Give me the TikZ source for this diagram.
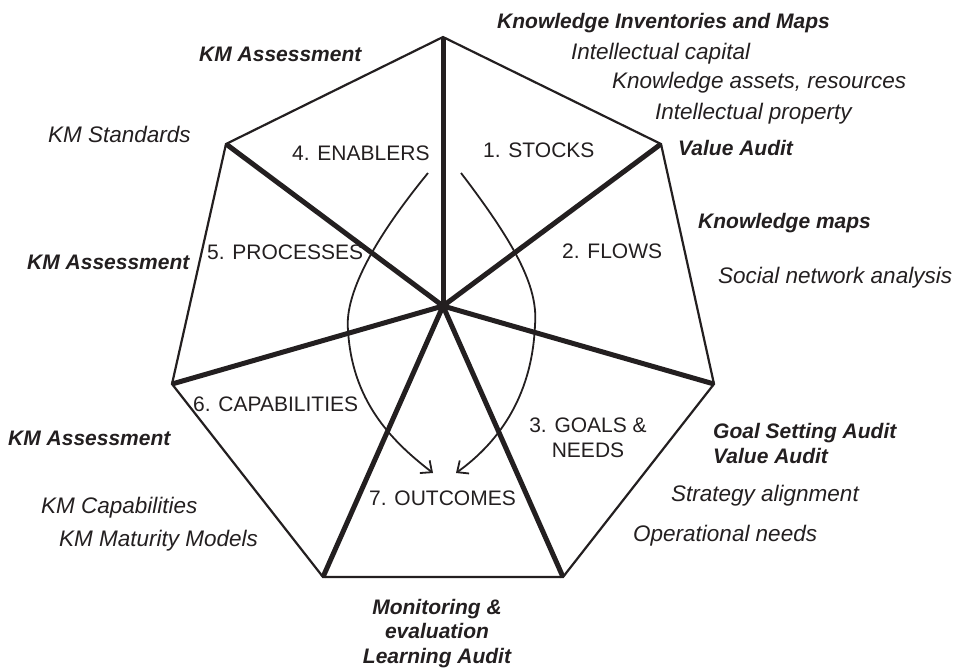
\documentclass[tikz,border=0pt]{standalone}
\usepackage{fontspec}
\setmainfont{Liberation Sans}
\usetikzlibrary{arrows.meta}
\definecolor{ink}{HTML}{231F20}
\begin{document}
\begin{tikzpicture}[x=1pt,y=-1pt,
  spoke/.style={line width=5pt, draw=ink},
  rim/.style={line width=2.2pt, draw=ink, line join=miter},
  flow/.style={line width=1.8pt, draw=ink,
    -{Straight Barb[length=9pt,width=16pt,line width=1.8pt]}},
  dim/.style={font=\fontsize{21}{25}\selectfont, text=ink, inner sep=0pt, anchor=base west},
  dimc/.style={dim, anchor=base},
  tool/.style={font=\fontsize{21}{25}\selectfont\bfseries\itshape, text=ink, inner sep=0pt, anchor=base west},
  toolc/.style={tool, anchor=base},
  item/.style={font=\fontsize{22.5}{27}\selectfont\itshape, text=ink, inner sep=0pt, anchor=base west}]
\useasboundingbox (0,0) rectangle (970,670);

% hub and corners of the heptagon
\coordinate (c)  at (443,306);
\coordinate (v1) at (443,37);
\coordinate (v2) at (661,144);
\coordinate (v3) at (714,384);
\coordinate (v4) at (563,577);
\coordinate (v5) at (323,577);
\coordinate (v6) at (172,384);
\coordinate (v7) at (226,144);

% outline and spokes
\draw[rim] (v1) -- (v2) -- (v3) -- (v4) -- (v5) -- (v6) -- (v7) -- cycle;
\foreach \v in {v1,v2,v3,v4,v5,v6,v7}
  \draw[spoke] (c) -- (\v);

% the seven dimensions
\node[dim] (stocks)  at (483,157) {1. STOCKS};
\node[dim] (flows)   at (562,258) {2. FLOWS};
\node[dimc] (goals)  at (588,432) {3. GOALS \&};
\node[dimc] (needs)  at (588,457) {NEEDS};
\node[dim] (enab)    at (292,160) {4. ENABLERS};
\node[dim] (proc)    at (207,259) {5. PROCESSES};
\node[dim] (capab)   at (193,411) {6. CAPABILITIES};
\node[dim] (outc)    at (369,505) {7. OUTCOMES};

% flows from stocks and enablers to outcomes
\coordinate (la) at (428,173);
\coordinate (lm) at (348,330);
\coordinate (lb) at (433,473);
\coordinate (ra) at (461,173);
\coordinate (rm) at (535,325);
\coordinate (rb) at (456,473);
\draw[flow] (la) .. controls (365,250) and (345,300) .. (lm)
                 .. controls (352,400) and (390,440) .. (lb);
\draw[flow] (ra) .. controls (520,250) and (538,290) .. (rm)
                 .. controls (532,400) and (495,445) .. (rb);

% audit methods and assessed items
\node[tool] (kim)  at (497,28)  {Knowledge Inventories and Maps};
\node[item] (ic)   at (571,59)  {Intellectual capital};
\node[item] (kar)  at (612,88)  {Knowledge assets, resources};
\node[item] (ip)   at (655,119) {Intellectual property};
\node[tool] (va1)  at (678,155) {Value Audit};

\node[tool] (km)   at (698,228) {Knowledge maps};
\node[item] (sna)  at (718,283) {Social network analysis};

\node[tool] (gsa)  at (713,438) {Goal Setting Audit};
\node[tool] (va2)  at (713,463) {Value Audit};
\node[item] (sa)   at (671,501) {Strategy alignment};
\node[item] (on)   at (633,541) {Operational needs};

\node[toolc] (mon) at (437,614) {Monitoring \&};
\node[toolc] (ev)  at (437,638) {evaluation};
\node[toolc] (la2) at (437,663) {Learning Audit};

\node[tool] (kma3) at (8,445)   {KM Assessment};
\node[item] (kmc)  at (41,513)  {KM Capabilities};
\node[item] (kmm)  at (59,546)  {KM Maturity Models};

\node[tool] (kma2) at (27,269)  {KM Assessment};
\node[item] (kms)  at (48,142)  {KM Standards};
\node[tool] (kma1) at (199,61)  {KM Assessment};
\end{tikzpicture}
\end{document}
